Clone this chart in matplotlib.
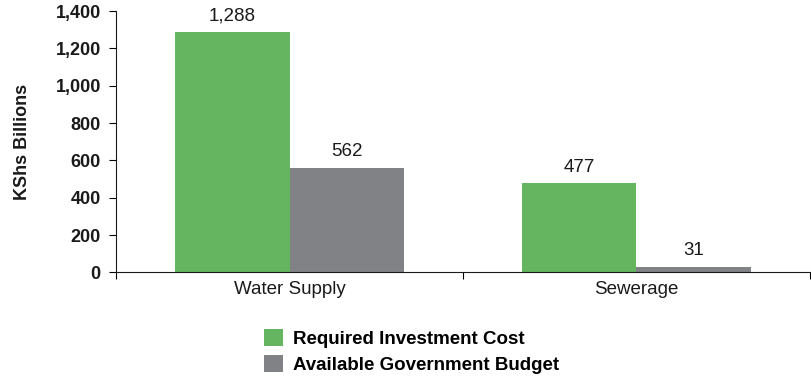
import matplotlib
matplotlib.use("Agg")
import matplotlib.pyplot as plt
from matplotlib.patches import Patch
import numpy as np

plt.rcParams["font.family"] = ["Liberation Sans", "DejaVu Sans"]

categories = ["Water Supply", "Sewerage"]
required_cost = [1288, 477]
govt_budget = [562, 31]
series_names = ["Required Investment Cost", "Available Government Budget"]
y_ticks = [0, 200, 400, 600, 800, 1000, 1200, 1400]

GREEN = "#65b560"
GREY = "#818285"
INK = "#1a1a1a"

fig = plt.figure(figsize=(8.12, 3.77), dpi=100)
ax = fig.add_axes([0.1429, 0.2772, 0.8546, 0.6936])

x = np.arange(len(categories))
w = 0.331
b1 = ax.bar(x - w / 2, required_cost, w, color=GREEN)
b2 = ax.bar(x + w / 2, govt_budget, w, color=GREY)

for bars, vals in ((b1, required_cost), (b2, govt_budget)):
    for rect, v in zip(bars, vals):
        ax.annotate(f"{v:,}", (rect.get_x() + rect.get_width() / 2, v),
                    xytext=(0, 5.5), textcoords="offset points",
                    ha="center", va="bottom", fontsize=13.5, color=INK)

ax.set_xlim(-0.5, len(categories) - 0.5)
ax.set_ylim(0, 1400)
ax.set_yticks(y_ticks)
ax.set_yticklabels([f"{t:,}" for t in y_ticks], fontweight="bold", fontsize=13,
                   color=INK)

# tick marks sit on category boundaries, labels under the group centres
ax.set_xticks(np.arange(-0.5, len(categories), 1.0))
ax.set_xticklabels([])
ax.set_xticks(x, minor=True)
ax.set_xticklabels(categories, minor=True, fontsize=13.5, color=INK)
ax.tick_params(axis="x", which="minor", length=0, pad=6)
ax.tick_params(axis="x", which="major", length=5, width=0.8, direction="out")
ax.tick_params(axis="y", length=5, width=0.8, pad=6)

ax.set_ylabel("KShs Billions", fontweight="bold", fontsize=13, color=INK)
ax.yaxis.set_label_coords(-0.122, 0.5)

for side in ("top", "right"):
    ax.spines[side].set_visible(False)
for side in ("left", "bottom"):
    ax.spines[side].set_linewidth(0.8)
    ax.spines[side].set_color(INK)

handles = [Patch(facecolor=GREEN), Patch(facecolor=GREY)]
fig.legend(handles, series_names, loc="upper left",
           bbox_to_anchor=(0.325, 0.126), frameon=False,
           handlelength=1.0, handleheight=1.0, handletextpad=0.55,
           labelspacing=0.35, borderaxespad=0, borderpad=0,
           prop={"weight": "bold", "size": 13.5})

fig.savefig("out.png", dpi=100)
